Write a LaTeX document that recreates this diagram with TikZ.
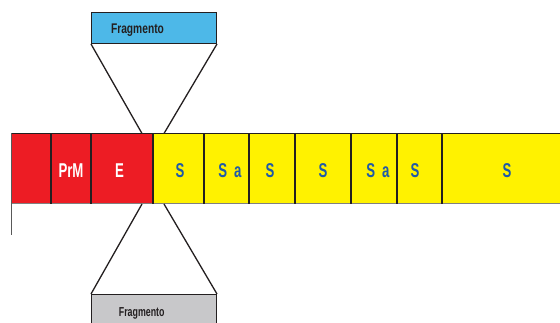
\documentclass[tikz,border=0pt]{standalone}
\usepackage{fontspec}
\setmainfont{Liberation Sans}
\newfontfamily\condfont[FakeStretch=0.66]{Liberation Sans}
\newfontfamily\fragfont[FakeStretch=0.73]{Liberation Sans}
\newfontfamily\fragfontb[FakeStretch=0.68]{Liberation Sans}
\definecolor{barred}{HTML}{ED1C24}
\definecolor{baryellow}{HTML}{FFF200}
\definecolor{fragblue}{HTML}{4DB8E8}
\definecolor{fraggrey}{HTML}{C8C8CA}
\definecolor{inkdark}{HTML}{231F20}
\definecolor{labelblue}{HTML}{1F5AA8}
\tikzset{
  divider/.style={draw=inkdark, line width=1.3pt},
  funnel/.style={draw=inkdark, line width=1.3pt},
  boxline/.style={draw=inkdark, line width=1pt},
  whitelab/.style={font=\condfont\bfseries\fontsize{20}{20}\selectfont, text=white, anchor=base, inner sep=0pt},
  bluelab/.style={font=\condfont\bfseries\fontsize{20}{20}\selectfont, text=labelblue, anchor=base, inner sep=0pt},
}
\begin{document}
\begin{tikzpicture}[x=1pt,y=-1pt]
\useasboundingbox (0,0) rectangle (560,323);
\begin{scope}
\clip (0,0) rectangle (560,323);
% bar
\fill[barred] (11,133.5) rectangle (153,204);
\fill[baryellow] (153,133.5) rectangle (570,204);
\draw[inkdark, line width=1pt] (11,133.5) -- (570,133.5);
\draw[gray, line width=1pt] (11,204) -- (570,204);
\draw[gray!70!black, line width=1pt] (11,133.5) -- (11,235);
\foreach \x in {51,91,153,204,249,295,351,397,442}
  \draw[divider] (\x,133.5) -- (\x,204);
% labels
\node[whitelab] (prm) at (71,177.7) {PrM};
\node[whitelab] (e) at (119.5,177.7) {E};
\node[bluelab] (s1) at (180,177.7) {S};
\node[bluelab] (sa1) at (230,177.7) {S\hspace{0.35em}a};
\node[bluelab] (s2) at (270,177.7) {S};
\node[bluelab] (s3) at (323,177.7) {S};
\node[bluelab] (sa2) at (378,177.7) {S\hspace{0.35em}a};
\node[bluelab] (s4) at (415,177.7) {S};
\node[bluelab] (s5) at (507,177.7) {S};
% funnel end points on bar
\coordinate (tl) at (142,133.5);
\coordinate (tr) at (164,133.5);
\coordinate (bl) at (142,204);
\coordinate (br) at (164,204);
% top fragment box
\node[boxline, fill=fragblue, minimum width=125pt, minimum height=31pt, inner sep=0pt, anchor=north west] (ft) at (91,12) {};
\node[font=\fragfont\bfseries\fontsize{14}{14}\selectfont, text=inkdark, anchor=base, inner sep=0pt] (ftl) at (137.5,33.3) {Fragmento};
% bottom fragment box
\node[boxline, fill=fraggrey, minimum width=125pt, minimum height=40pt, inner sep=0pt, anchor=north west] (fb) at (91,294) {};
\node[font=\fragfontb\bfseries\fontsize{13}{13}\selectfont, text=inkdark, anchor=base, inner sep=0pt] (fbl) at (141.7,316.7) {Fragmento};
% funnel lines
\draw[funnel] (ft.south west) -- (tl);
\draw[funnel] (ft.south east) -- (tr);
\draw[funnel] (bl) -- (fb.north west);
\draw[funnel] (br) -- (fb.north east);
\end{scope}
\end{tikzpicture}
\end{document}
